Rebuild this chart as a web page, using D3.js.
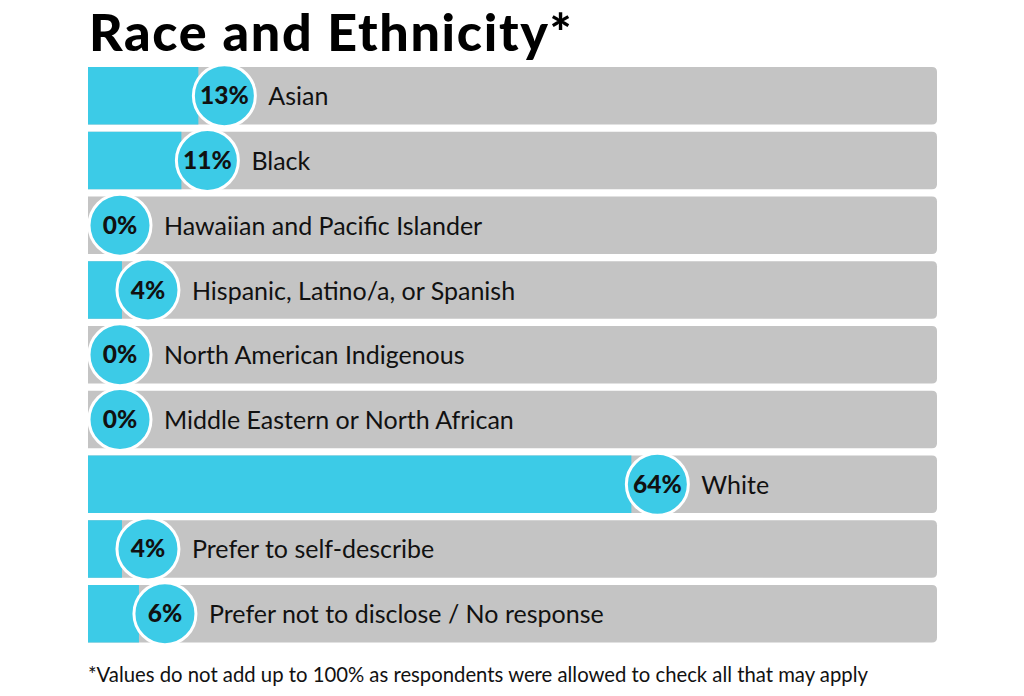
<!DOCTYPE html>
<html>
<head>
<meta charset="utf-8">
<script src="https://cdn.jsdelivr.net/npm/d3@7"></script>
<style>
  body { margin: 0; background: #fff; }
  svg { display: block; }
</style>
</head>
<body>
<div id="chart"></div>
<script>
// chart values
var categories = [
  "Asian",
  "Black",
  "Hawaiian and Pacific Islander",
  "Hispanic, Latino/a, or Spanish",
  "North American Indigenous",
  "Middle Eastern or North African",
  "White",
  "Prefer to self-describe",
  "Prefer not to disclose / No response"
];
var percents = [13, 11, 0, 4, 0, 0, 64, 4, 6];

var titleText = "Race and Ethnicity*";
var noteText = "*Values do not add up to 100% as respondents were allowed to check all that may apply";

var svgWidth = 1024;
var svgHeight = 696;

var cyan = "#3ccbe7";
var grey = "#c4c4c4";

var svg = d3.select("#chart")
  .append("svg")
  .attr("width", svgWidth)
  .attr("height", svgHeight);

var rows = categories.map((c, i) => ({ name: c, value: percents[i] }));

// scales
var x = d3.scaleLinear()
  .domain([0, 100])
  .range([88, 937]);

var y = d3.scaleBand()
  .domain(categories)
  .range([59.75, 649.75])
  .padding(0.112);

var bh = y.bandwidth();
var rr = 5;

// grey track: square left, rounded right
function trackPath(y0) {
  var x0 = x(0), x1 = x(100);
  return `M${x0},${y0}H${x1 - rr}Q${x1},${y0} ${x1},${y0 + rr}` +
    `V${y0 + bh - rr}Q${x1},${y0 + bh} ${x1 - rr},${y0 + bh}H${x0}Z`;
}

svg.append("text")
  .attr("x", 89)
  .attr("y", 51)
  .attr("font-family", "Lato, sans-serif")
  .attr("font-weight", "900")
  .attr("font-size", "52px")
  .attr("letter-spacing", "1.7px")
  .attr("fill", "#000")
  .text(titleText);

var row = svg.selectAll("g.row")
  .data(rows)
  .join("g")
  .attr("class", "row");

row.append("path")
  .attr("d", d => trackPath(y(d.name)))
  .attr("fill", grey);

row.append("rect")
  .attr("x", x(0))
  .attr("y", d => y(d.name))
  .attr("width", d => x(d.value) - x(0))
  .attr("height", bh)
  .attr("fill", cyan);

var r = 31;
var cx = d => Math.max(x(d.value) + 26, x(0) + 32);
var cy = d => y(d.name) + bh / 2;

row.append("circle")
  .attr("cx", cx)
  .attr("cy", cy)
  .attr("r", r)
  .attr("fill", cyan)
  .attr("stroke", "#fff")
  .attr("stroke-width", 3);

row.append("text")
  .attr("x", cx)
  .attr("y", d => cy(d) + 8.5)
  .attr("text-anchor", "middle")
  .attr("font-family", "Lato, sans-serif")
  .attr("font-weight", "900")
  .attr("font-size", "24.5px")
  .attr("fill", "#111")
  .text(d => d.value + "%");

row.append("text")
  .attr("x", d => cx(d) + r + 13)
  .attr("y", d => cy(d) + 9.5)
  .attr("font-family", "Lato, sans-serif")
  .attr("font-size", "25px")
  .attr("fill", "#111")
  .text(d => d.name);

svg.append("text")
  .attr("x", 88)
  .attr("y", 682)
  .attr("font-family", "Lato, sans-serif")
  .attr("font-size", "20.3px")
  .attr("fill", "#111")
  .text(noteText);
</script>
</body>
</html>
